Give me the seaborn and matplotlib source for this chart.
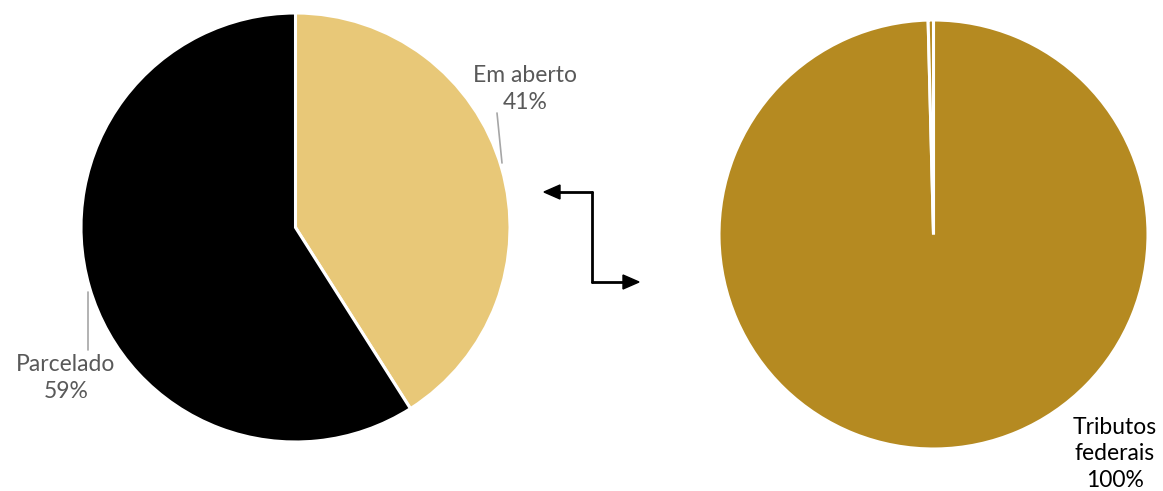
import matplotlib
matplotlib.use("Agg")
import matplotlib.pyplot as plt
import seaborn as sns

# ---- data ----
left_labels = ["Em aberto", "Parcelado"]
left_values = [41, 59]
left_colors = ["#E8C878", "#000000"]

right_labels = ["Tributos federais", "Outros"]
right_values = [99.6, 0.4]
right_colors = ["#B58A21", "#B58A21"]

sns.set_theme(style="white")
plt.rcParams['font.family'] = ['Lato', 'DejaVu Sans']

W, H = 1163, 491
fig = plt.figure(figsize=(W / 100, H / 100), dpi=100)

def px_axes(left, top, size):
    return fig.add_axes([left / W, (H - top - size) / H, size / W, size / H])

axL = px_axes(81, 13, 429)
axR = px_axes(719, 20, 429)

for ax, vals, cols in [(axL, left_values, left_colors), (axR, right_values, right_colors)]:
    ax.pie(vals, colors=cols, startangle=90, counterclock=False, radius=1,
           wedgeprops=dict(edgecolor="white", linewidth=2.2))
    ax.set_xlim(-1, 1)
    ax.set_ylim(-1, 1)
    ax.set_aspect("equal")
    ax.axis("off")

def fmt(label, v):
    return f"{label}\n{round(v)}%"

gray = "#595959"
fs = 16.5
ls = 1.3
# left labels
fig.text(525 / W, 1 - 89 / H, fmt(left_labels[0], left_values[0]), ha="center", va="center",
         color=gray, fontsize=fs, linespacing=ls)
fig.text(66 / W, 1 - 378 / H, fmt(left_labels[1], left_values[1]), ha="center", va="center",
         color=gray, fontsize=fs, linespacing=ls)
# leader lines
fig.add_artist(plt.Line2D([497 / W, 502 / W], [1 - 113 / H, 1 - 163 / H], color="#A6A6A6", lw=1.2))
fig.add_artist(plt.Line2D([88 / W, 88 / W], [1 - 292 / H, 1 - 350 / H], color="#A6A6A6", lw=1.2))

# right label
rl = right_labels[0].replace(" ", "\n")
fig.text(1115 / W, 1 - 454 / H, f"{rl}\n{round(right_values[0])}%", ha="center", va="center",
         color="#000000", fontsize=fs, linespacing=ls)

# connector arrows
fig.add_artist(plt.Line2D([592 / W, 592 / W], [1 - 192 / H, 1 - 282 / H], color="black", lw=2))
fig.add_artist(plt.Line2D([592 / W, 558 / W], [1 - 192 / H, 1 - 192 / H], color="black", lw=2))
fig.add_artist(plt.Line2D([592 / W, 625 / W], [1 - 282 / H, 1 - 282 / H], color="black", lw=2))
fig.patches.append(plt.Polygon([[544 / W, 1 - 192 / H], [560 / W, 1 - 185 / H], [560 / W, 1 - 199 / H]],
                               closed=True, color="black", transform=fig.transFigure))
fig.patches.append(plt.Polygon([[639 / W, 1 - 282 / H], [623 / W, 1 - 275 / H], [623 / W, 1 - 289 / H]],
                               closed=True, color="black", transform=fig.transFigure))

fig.savefig("out.png", dpi=100, facecolor="white")
